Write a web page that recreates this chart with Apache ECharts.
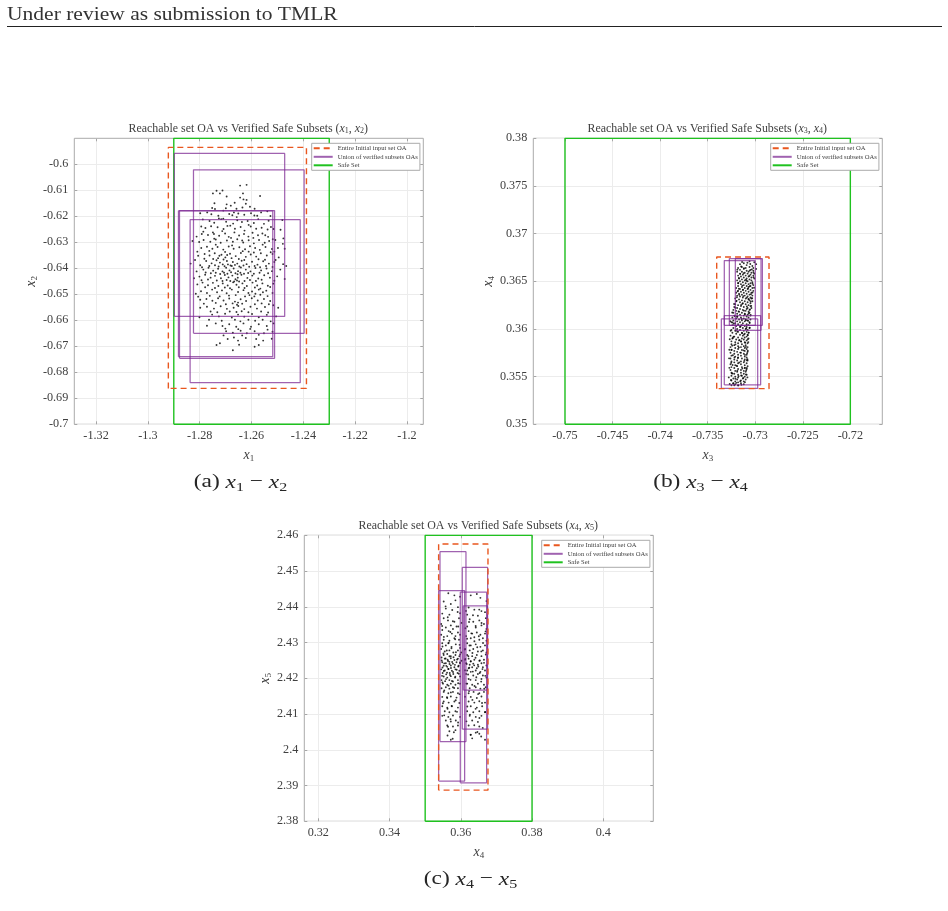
<!DOCTYPE html>
<html>
<head>
<meta charset="utf-8">
<title>Reachable set OA</title>
<script src="https://cdn.jsdelivr.net/npm/echarts@6/dist/echarts.min.js"></script>
<style>
	html, body { margin: 0; padding: 0; background: #fff; }
	#app { width: 948px; height: 911px; }
</style>
</head>
<body>
<div id="app"></div>
<script>
// tick labels
var ticksAx = [-1.32, -1.3, -1.28, -1.26, -1.24, -1.22, -1.2]
var ticksAy = [-0.7, -0.69, -0.68, -0.67, -0.66, -0.65, -0.64, -0.63, -0.62, -0.61, -0.6]
var ticksBx = [-0.75, -0.745, -0.74, -0.735, -0.73, -0.725, -0.72]
var ticksBy = [0.35, 0.355, 0.36, 0.365, 0.37, 0.375, 0.38]
var ticksCx = [0.32, 0.34, 0.36, 0.38, 0.4]
var ticksCy = [2.38, 2.39, 2.4, 2.41, 2.42, 2.43, 2.44, 2.45, 2.46]

// boxes are [xmin, xmax, ymin, ymax]
var safeA = [-1.29, -1.23, -0.7, -0.59]
var safeB = [-0.75, -0.72, 0.35, 0.38]
var safeC = [0.35, 0.38, 2.38, 2.46]
var entireA = [-1.2921, -1.2388, -0.6862, -0.5935]
var entireB = [-0.73405, -0.72855, 0.35374, 0.36755]
var entireC = [0.35378, 0.36763, 2.38871, 2.45756]
var verifiedA = [
	[-1.2898, -1.2472, -0.6585, -0.5958],
	[-1.2824, -1.2397, -0.665, -0.6021],
	[-1.2882, -1.2518, -0.674, -0.6179],
	[-1.2878, -1.2511, -0.6746, -0.6178],
	[-1.2837, -1.2412, -0.684, -0.6213]
]
var verifiedB = [
	[-0.73325, -0.72999, 0.36038, 0.36717],
	[-0.73272, -0.72925, 0.36038, 0.36738],
	[-0.73209, -0.72939, 0.35986, 0.36738],
	[-0.73325, -0.72943, 0.35413, 0.3614],
	[-0.73356, -0.72974, 0.35378, 0.36105]
]
var verifiedC = [
	[0.35416, 0.36145, 2.40229, 2.45541],
	[0.35378, 0.36108, 2.39124, 2.44454],
	[0.36042, 0.36753, 2.40576, 2.45101],
	[0.35986, 0.36725, 2.39077, 2.44407],
	[0.3607, 0.36744, 2.41672, 2.44023]
]

var samplesA = [
	[-1.2644,-0.6082],[-1.2619,-0.6079],[-1.2567,-0.6122],[-1.2696,-0.6124],[-1.2644,-0.6128],[-1.2743,-0.615],[-1.2696,-0.6154],[-1.268,-0.6159],[-1.2619,-0.6137],[-1.2735,-0.6102],[-1.2722,-0.6112],[-1.2712,-0.6101],
	[-1.2631,-0.6135],[-1.2665,-0.6148],[-1.2752,-0.6168],[-1.2741,-0.6172],[-1.2709,-0.6178],[-1.2622,-0.6152],[-1.2635,-0.6166],[-1.2588,-0.6171],[-1.2658,-0.6171],[-1.2699,-0.6169],
	[-1.2798,-0.6188],[-1.2771,-0.6185],[-1.2755,-0.6192],[-1.2728,-0.6198],[-1.2717,-0.6211],[-1.2709,-0.6209],[-1.2686,-0.6191],[-1.2674,-0.6196],[-1.2651,-0.6189],[-1.2628,-0.6194],[-1.2602,-0.6188],[-1.2589,-0.6197],[-1.2563,-0.6185],[-1.2539,-0.6181],[-1.2527,-0.6199],[-1.2481,-0.6214],
	[-1.2788,-0.6212],[-1.2762,-0.6218],[-1.2744,-0.6225],[-1.2698,-0.6221],[-1.2671,-0.6228],[-1.2655,-0.6215],[-1.2637,-0.6222],[-1.2615,-0.6218],[-1.2591,-0.6226],[-1.2574,-0.6211],[-1.2552,-0.6229],[-1.2534,-0.6217],[-1.2778,-0.6245],[-1.2756,-0.6238],[-1.2731,-0.6242],[-1.2708,-0.6249],[-1.2682,-0.6236],[-1.2664,-0.6248],[-1.2642,-0.6241],[-1.2627,-0.6255],[-1.2603,-0.6239],[-1.2582,-0.6248],[-1.2561,-0.6244],[-1.2538,-0.6251],[-1.2515,-0.6249],
	[-1.2812,-0.6278],[-1.2792,-0.6268],[-1.2768,-0.6272],[-1.2749,-0.6262],[-1.2725,-0.6275],[-1.2702,-0.6266],[-1.2688,-0.6279],[-1.2666,-0.6262],[-1.2648,-0.6274],[-1.2629,-0.6268],[-1.2612,-0.6278],[-1.2596,-0.6263],[-1.2575,-0.6273],[-1.2558,-0.6266],[-1.2536,-0.6279],[-1.2518,-0.6288],[-1.2828,-0.6295],
	[-1.2802,-0.6299],[-1.2785,-0.6291],[-1.2759,-0.6298],[-1.2738,-0.6289],[-1.2719,-0.6302],[-1.2695,-0.6293],[-1.2672,-0.6298],[-1.2655,-0.6288],[-1.2632,-0.6301],[-1.2611,-0.6292],[-1.2591,-0.6304],[-1.2571,-0.6291],[-1.2549,-0.6302],[-1.2532,-0.6295],[-1.2508,-0.6291],[-1.2479,-0.6306],
	[-1.2794,-0.6322],[-1.2772,-0.6317],[-1.2751,-0.6325],[-1.2731,-0.6318],[-1.2709,-0.6328],[-1.2688,-0.6316],[-1.2669,-0.6325],[-1.2647,-0.6319],[-1.2625,-0.6327],[-1.2606,-0.6315],[-1.2586,-0.6322],[-1.2568,-0.6329],[-1.2546,-0.6318],[-1.2521,-0.6326],[-1.2498,-0.6322],[-1.2472,-0.6325],
	[-1.2818,-0.6368],[-1.2806,-0.6352],[-1.2781,-0.6345],[-1.2762,-0.6351],[-1.2742,-0.6342],[-1.2724,-0.6352],[-1.2716,-0.6348],[-1.2701,-0.6358],[-1.2683,-0.6344],[-1.2661,-0.6353],[-1.2641,-0.6341],[-1.2622,-0.6356],[-1.2603,-0.6347],[-1.2582,-0.6355],[-1.2564,-0.6342],[-1.2541,-0.6351],[-1.2519,-0.6345],[-1.2495,-0.6358],
	[-1.2835,-0.6382],[-1.2798,-0.6388],[-1.2775,-0.6372],[-1.2754,-0.6381],[-1.2735,-0.6369],[-1.2722,-0.6378],[-1.2711,-0.6385],[-1.2695,-0.6372],[-1.2681,-0.6389],[-1.2672,-0.6376],[-1.2655,-0.6382],[-1.2638,-0.6371],[-1.2619,-0.6384],[-1.2598,-0.6375],[-1.2577,-0.6386],[-1.2555,-0.6373],[-1.2533,-0.6382],[-1.2512,-0.6376],[-1.2478,-0.6384],
	[-1.2812,-0.6412],[-1.2786,-0.6405],[-1.2766,-0.6398],[-1.2748,-0.6409],[-1.2729,-0.6402],[-1.2712,-0.6412],[-1.2698,-0.6398],[-1.2685,-0.6408],[-1.2669,-0.6401],[-1.2652,-0.6411],[-1.2641,-0.6397],[-1.2622,-0.6405],[-1.2604,-0.6412],[-1.2585,-0.6399],[-1.2563,-0.6408],[-1.2542,-0.6401],[-1.2521,-0.6411],[-1.2489,-0.6405],
	[-1.2822,-0.6438],[-1.2801,-0.6432],[-1.2779,-0.6425],[-1.2758,-0.6436],[-1.2741,-0.6429],[-1.2718,-0.6438],[-1.2703,-0.6426],[-1.2689,-0.6435],[-1.2674,-0.6428],[-1.2662,-0.6442],[-1.2653,-0.6436],[-1.2639,-0.6425],[-1.2616,-0.6437],[-1.2597,-0.6428],[-1.2574,-0.6439],[-1.2551,-0.6427],[-1.2529,-0.6436],[-1.2501,-0.6431],[-1.2472,-0.6441],
	[-1.2809,-0.6462],[-1.2789,-0.6455],[-1.2768,-0.6465],[-1.2749,-0.6456],[-1.2728,-0.6468],[-1.2711,-0.6458],[-1.2692,-0.6466],[-1.2671,-0.6454],[-1.2658,-0.6463],[-1.2635,-0.6458],[-1.2618,-0.6468],[-1.2596,-0.6455],[-1.2578,-0.6466],[-1.2558,-0.6458],[-1.2537,-0.6467],[-1.2516,-0.6459],
	[-1.2815,-0.6498],[-1.2795,-0.6488],[-1.2772,-0.6495],[-1.2752,-0.6482],[-1.2733,-0.6492],[-1.2714,-0.6485],[-1.2696,-0.6496],[-1.2676,-0.6482],[-1.2652,-0.6491],[-1.2631,-0.6484],[-1.2612,-0.6495],[-1.2598,-0.6489],[-1.2585,-0.6498],[-1.2572,-0.6482],[-1.2556,-0.6492],[-1.2543,-0.6486],[-1.2519,-0.6495],
	[-1.2798,-0.6521],[-1.2774,-0.6518],[-1.2751,-0.6525],[-1.2729,-0.6515],[-1.2708,-0.6524],[-1.2686,-0.6516],[-1.2664,-0.6528],[-1.2652,-0.6532],[-1.2642,-0.6519],[-1.2621,-0.6526],[-1.2599,-0.6515],[-1.2576,-0.6524],[-1.2552,-0.6518],[-1.2528,-0.6526],[-1.2798,-0.6552],[-1.2772,-0.6548],[-1.2745,-0.6555],[-1.2719,-0.6546],[-1.2695,-0.6556],[-1.2669,-0.6552],[-1.2651,-0.6545],[-1.2628,-0.6557],[-1.2604,-0.6548],[-1.2579,-0.6555],[-1.2548,-0.6549],[-1.2516,-0.6542],[-1.2497,-0.6552],
	[-1.2801,-0.6588],[-1.2752,-0.6578],[-1.2726,-0.6585],[-1.2702,-0.6575],[-1.2676,-0.6589],[-1.2652,-0.6578],[-1.2628,-0.6586],[-1.2598,-0.6576],[-1.2572,-0.6588],[-1.2541,-0.6579],[-1.2505,-0.6585],[-1.2772,-0.6621],[-1.2738,-0.6612],[-1.2712,-0.6622],[-1.2686,-0.6615],[-1.2659,-0.6625],[-1.2631,-0.6612],[-1.2602,-0.6625],[-1.2572,-0.6615],[-1.2541,-0.6622],[-1.2515,-0.6612],
	[-1.2698,-0.6642],[-1.2672,-0.6648],[-1.2642,-0.664],[-1.2618,-0.665],[-1.2588,-0.6642],[-1.2552,-0.665],[-1.2519,-0.6644],[-1.2692,-0.6672],[-1.2668,-0.6666],[-1.2652,-0.6678],[-1.2622,-0.6668],[-1.2582,-0.6672],[-1.2555,-0.6678],[-1.2522,-0.6671],[-1.2735,-0.6695],[-1.2722,-0.6688],[-1.2648,-0.6694],[-1.2672,-0.6715],[-1.2588,-0.6702],[-1.2572,-0.6695]
]
var samplesA2 = [
	[-1.2726,-0.6208],[-1.2693,-0.6237],[-1.2657,-0.6203],[-1.2611,-0.6233],[-1.2786,-0.6259],[-1.2744,-0.6286],[-1.2713,-0.6257],[-1.2679,-0.6283],[-1.2636,-0.6293],[-1.2593,-0.6283],[-1.2547,-0.6273],[-1.2809,-0.6336],[-1.2763,-0.6333],[-1.2738,-0.6309],[-1.2702,-0.6337],[-1.2675,-0.6312],[-1.2634,-0.6334],[-1.2591,-0.6339],[-1.2557,-0.6309],[-1.2526,-0.6338],[-1.2782,-0.6363],[-1.2748,-0.6364],[-1.2729,-0.6361],[-1.2708,-0.6366],[-1.2694,-0.6349],[-1.2677,-0.6361],[-1.2649,-0.6364],[-1.2628,-0.6368],[-1.2611,-0.6336],[-1.2573,-0.6365],[-1.2548,-0.6367],[-1.2507,-0.6368],
	[-1.2791,-0.6396],[-1.2763,-0.6391],[-1.2741,-0.6388],[-1.2727,-0.6393],[-1.2704,-0.6392],[-1.2691,-0.6385],[-1.2676,-0.6391],[-1.2664,-0.6387],[-1.2647,-0.6393],[-1.2631,-0.6389],[-1.2609,-0.6394],[-1.2588,-0.6391],[-1.2567,-0.6396],[-1.2544,-0.6391],[-1.2519,-0.6395],[-1.2777,-0.6416],[-1.2757,-0.6419],[-1.2738,-0.6417],[-1.2721,-0.6422],[-1.2706,-0.6417],[-1.2693,-0.6421],[-1.2679,-0.6415],[-1.2662,-0.6419],[-1.2654,-0.6423],[-1.2643,-0.6417],[-1.2629,-0.6421],[-1.2613,-0.6418],[-1.2591,-0.6421],[-1.2569,-0.6417],[-1.2536,-0.6419],
	[-1.2793,-0.6446],[-1.2768,-0.6443],[-1.2734,-0.6447],[-1.2712,-0.6449],[-1.2696,-0.6445],[-1.2682,-0.6449],[-1.2667,-0.6451],[-1.2656,-0.6447],[-1.2648,-0.6451],[-1.2627,-0.6449],[-1.2606,-0.6445],[-1.2583,-0.6449],[-1.2561,-0.6444],[-1.2512,-0.6448],[-1.2779,-0.6473],[-1.2741,-0.6476],[-1.2703,-0.6474],[-1.2683,-0.6477],[-1.2649,-0.6473],[-1.2627,-0.6476],[-1.2587,-0.6474],[-1.2566,-0.6478],[-1.2528,-0.6472],[-1.2806,-0.6509],[-1.2761,-0.6506],[-1.2723,-0.6508],[-1.2687,-0.6505],[-1.2661,-0.6503],[-1.2625,-0.6508],[-1.2608,-0.6503],[-1.2589,-0.6508],[-1.2566,-0.6502],[-1.2538,-0.6507],
	[-1.2784,-0.6536],[-1.2738,-0.6533],[-1.2699,-0.6538],[-1.2673,-0.6535],[-1.2656,-0.654],[-1.2636,-0.6536],[-1.2587,-0.6538],[-1.2561,-0.6535],[-1.2533,-0.6538],[-1.2758,-0.6566],[-1.2732,-0.6569],[-1.2684,-0.6566],[-1.2658,-0.6568],[-1.2638,-0.6565],[-1.2612,-0.6569],[-1.2563,-0.6566],[-1.2536,-0.657],[-1.2764,-0.6598],[-1.2715,-0.6602],[-1.2664,-0.6598],[-1.2643,-0.6604],[-1.2612,-0.6598],[-1.2586,-0.6602],[-1.2557,-0.6598],[-1.2526,-0.6604],[-1.2701,-0.6632],[-1.2651,-0.6634],[-1.2605,-0.6633],[-1.2538,-0.6636],[-1.2708,-0.6658],[-1.2636,-0.6658],[-1.2572,-0.6656],[-1.2745,-0.6268],[-1.2794,-0.6239],[-1.2668,-0.6185],[-1.2578,-0.6198],[-1.2525,-0.6241],[-1.2488,-0.6252],[-1.2477,-0.6285],[-1.2512,-0.6336],[-1.2466,-0.6391],[-1.2749,-0.6112],[-1.2606,-0.6163],[-1.2633,-0.6112]
]
var samplesB = [
	[-0.7306,0.3671],[-0.7312,0.3669],[-0.7301,0.367],[-0.7316,0.3668],[-0.7309,0.3667],[-0.7303,0.3666],[-0.7299,0.3668],[-0.7314,0.3665],[-0.7306,0.3665],[-0.731,0.3664],[-0.7318,0.3664],[-0.7302,0.3664],[-0.7312,0.3663],[-0.7305,0.3662],[-0.7299,0.3663],[-0.7316,0.3662],[-0.7309,0.3661],[-0.7302,0.3661],[-0.7314,0.366],[-0.7307,0.366],[-0.7319,0.366],[-0.7311,0.3659],[-0.7304,0.3659],[-0.7301,0.3658],[-0.7316,0.3658],[-0.7308,0.3658],[-0.7313,0.3657],[-0.7305,0.3657],[-0.7318,0.3656],[-0.731,0.3656],[-0.7302,0.3656],[-0.7315,0.3655],[-0.7307,0.3655],
	[-0.7312,0.3654],[-0.7304,0.3654],[-0.7317,0.3653],[-0.7309,0.3653],[-0.7301,0.3653],[-0.7314,0.3652],[-0.7306,0.3652],[-0.7319,0.3651],[-0.7311,0.3651],[-0.7304,0.3651],[-0.7316,0.365],[-0.7308,0.365],[-0.7313,0.3649],[-0.7303,0.3649],[-0.7318,0.3648],[-0.731,0.3648],[-0.7305,0.3648],[-0.7315,0.3647],[-0.7307,0.3647],[-0.7312,0.3646],[-0.7302,0.3646],[-0.7318,0.3645],[-0.7309,0.3645],[-0.7305,0.3645],[-0.7314,0.3644],[-0.7307,0.3644],[-0.732,0.3643],[-0.7311,0.3643],[-0.7303,0.3643],[-0.7316,0.3642],[-0.7308,0.3642],[-0.7313,0.3641],[-0.7305,0.3641],
	[-0.7318,0.364],[-0.731,0.364],[-0.7302,0.364],[-0.7315,0.3639],[-0.7307,0.3639],[-0.732,0.3638],[-0.7312,0.3638],[-0.7304,0.3638],[-0.7317,0.3637],[-0.7309,0.3637],[-0.7314,0.3636],[-0.7306,0.3636],[-0.7319,0.3635],[-0.7311,0.3635],[-0.7303,0.3635],[-0.7316,0.3634],[-0.7308,0.3634],[-0.7313,0.3633],[-0.7305,0.3633],[-0.7321,0.3632],[-0.731,0.3632],[-0.7304,0.3632],[-0.7317,0.3631],[-0.7307,0.3631],[-0.7314,0.363],[-0.7306,0.363],[-0.732,0.3629],[-0.7311,0.3629],[-0.7303,0.3629],[-0.7316,0.3628],[-0.7308,0.3628],
	[-0.7313,0.3627],[-0.7305,0.3627],[-0.7321,0.3626],[-0.731,0.3626],[-0.7318,0.3625],[-0.7307,0.3625],[-0.7315,0.3624],[-0.7305,0.3624],[-0.7322,0.3623],[-0.7312,0.3623],[-0.7308,0.3622],[-0.7319,0.3622],[-0.7304,0.3622],[-0.7316,0.3621],[-0.7309,0.3621],[-0.7323,0.362],[-0.7313,0.362],[-0.7306,0.362],[-0.732,0.3619],[-0.731,0.3619],[-0.7317,0.3618],[-0.7307,0.3618],[-0.7323,0.3617],[-0.7314,0.3617],[-0.7306,0.3617],[-0.7319,0.3616],[-0.7311,0.3616],[-0.7316,0.3615],[-0.7308,0.3615],[-0.7322,0.3614],[-0.7312,0.3614],[-0.7305,0.3614],
	[-0.7319,0.3613],[-0.7309,0.3613],[-0.7324,0.3612],[-0.7315,0.3612],[-0.7307,0.3612],[-0.732,0.3611],[-0.7312,0.3611],[-0.7317,0.361],[-0.731,0.361],[-0.7305,0.361],[-0.7323,0.3609],[-0.7314,0.3609],[-0.7308,0.3609],[-0.7319,0.3608],[-0.7311,0.3608],[-0.7325,0.3607],[-0.7316,0.3607],[-0.7306,0.3607],[-0.7321,0.3606],[-0.7313,0.3606],[-0.7309,0.3605],[-0.7318,0.3605],[-0.7324,0.3604],[-0.7314,0.3604],[-0.7307,0.3604],[-0.732,0.3603],[-0.7311,0.3603],[-0.7316,0.3602],[-0.7309,0.3602],[-0.7323,0.3601],[-0.7313,0.3601],[-0.7306,0.3601],
	[-0.7319,0.36],[-0.731,0.36],[-0.7325,0.3599],[-0.7316,0.3599],[-0.7308,0.3599],[-0.7321,0.3598],[-0.7312,0.3598],[-0.7318,0.3597],[-0.7309,0.3597],[-0.7324,0.3596],[-0.7314,0.3596],[-0.7307,0.3596],[-0.732,0.3595],[-0.7311,0.3595],[-0.7316,0.3594],[-0.7308,0.3594],[-0.7326,0.3593],[-0.7313,0.3593],[-0.7322,0.3592],[-0.7309,0.3592],[-0.7318,0.3591],[-0.7311,0.3591],[-0.7324,0.359],[-0.7314,0.359],[-0.7307,0.359],[-0.732,0.3589],[-0.7312,0.3589],[-0.7317,0.3588],[-0.7309,0.3588],[-0.7325,0.3587],[-0.7315,0.3587],
	[-0.7321,0.3586],[-0.7311,0.3586],[-0.7318,0.3585],[-0.7308,0.3585],[-0.7325,0.3584],[-0.7314,0.3584],[-0.7322,0.3583],[-0.731,0.3583],[-0.7318,0.3582],[-0.7312,0.3582],[-0.7326,0.3581],[-0.7315,0.3581],[-0.7308,0.3581],[-0.7321,0.358],[-0.7311,0.358],[-0.7318,0.3579],[-0.7309,0.3579],[-0.7325,0.3578],[-0.7314,0.3578],[-0.7322,0.3577],[-0.7311,0.3577],[-0.7319,0.3576],[-0.7308,0.3576],[-0.7326,0.3575],[-0.7315,0.3575],[-0.7322,0.3574],[-0.7312,0.3574],[-0.7318,0.3573],[-0.7309,0.3573],[-0.7325,0.3572],[-0.7315,0.3572],
	[-0.7321,0.3571],[-0.7311,0.3571],[-0.7318,0.357],[-0.7309,0.357],[-0.7326,0.3569],[-0.7314,0.3569],[-0.7322,0.3568],[-0.7311,0.3568],[-0.7319,0.3567],[-0.7308,0.3567],[-0.7325,0.3566],[-0.7315,0.3566],[-0.7322,0.3565],[-0.7312,0.3565],[-0.7318,0.3564],[-0.7309,0.3564],[-0.7326,0.3563],[-0.7315,0.3563],[-0.7321,0.3562],[-0.7311,0.3562],[-0.7319,0.3561],[-0.7308,0.3561],[-0.7325,0.356],[-0.7314,0.356],[-0.7322,0.3559],[-0.7311,0.3559],[-0.7318,0.3558],[-0.7309,0.3558],[-0.7326,0.3557],[-0.7315,0.3557],[-0.7321,0.3556],[-0.7312,0.3556],
	[-0.7319,0.3555],[-0.731,0.3555],[-0.7325,0.3554],[-0.7315,0.3554],[-0.7322,0.3553],[-0.7312,0.3553],[-0.7318,0.3552],[-0.7309,0.3552],[-0.7325,0.3551],[-0.7314,0.3551],[-0.7321,0.355],[-0.7311,0.355],[-0.7318,0.3549],[-0.7323,0.3548],[-0.7313,0.3548],[-0.7319,0.3547],[-0.731,0.3547],[-0.7325,0.3546],[-0.7315,0.3546],[-0.7321,0.3545],[-0.7312,0.3545],[-0.7318,0.3544],[-0.7323,0.3543],[-0.7315,0.3543],[-0.7321,0.3542],[-0.7312,0.3542],[-0.7325,0.3541],[-0.7318,0.3541],[-0.7322,0.3541]
]
var samplesB2 = [
	[-0.73082,0.36695],[-0.73148,0.36655],[-0.73036,0.36625],[-0.73122,0.36585],[-0.73062,0.36555],[-0.73172,0.36535],[-0.73092,0.36505],[-0.73028,0.36475],[-0.73135,0.36455],[-0.73075,0.36425],[-0.73185,0.36395],[-0.73045,0.36365],[-0.73125,0.36345],[-0.73068,0.36315],[-0.73195,0.36295],[-0.73135,0.36265],[-0.73088,0.36235],[-0.73055,0.36205],[-0.73175,0.36185],[-0.73108,0.36155],[-0.73215,0.36135],[-0.73142,0.36105],[-0.73075,0.36085],[-0.73225,0.36055],[-0.73155,0.36025],[-0.73095,0.36005],[-0.73205,0.35985],[-0.73138,0.35955],[-0.73078,0.35935],[-0.73235,0.35905],[-0.73165,0.35885],[-0.73105,0.35855],[-0.73242,0.35825],[-0.73172,0.35805],[-0.73122,0.35775],[-0.73085,0.35745],[-0.73235,0.35725],[-0.73182,0.35695],[-0.73115,0.35665],[-0.73252,0.35645],[-0.73195,0.35615],[-0.73135,0.35585],[-0.73095,0.35565],[-0.73245,0.35535],[-0.73175,0.35505],[-0.73125,0.35485],[-0.73255,0.35465],[-0.73198,0.35435],[-0.73145,0.35415],
	[-0.73118,0.36638],[-0.73058,0.36612],[-0.73158,0.36578],[-0.73018,0.36542],[-0.73098,0.36518],[-0.73178,0.36482],[-0.73058,0.36448],[-0.73128,0.36412],[-0.73028,0.36382],[-0.73168,0.36358],[-0.73088,0.36328],[-0.73048,0.36288],[-0.73148,0.36252],[-0.73208,0.36222],[-0.73118,0.36192],[-0.73068,0.36162],[-0.73188,0.36128],[-0.73098,0.36092],[-0.73238,0.36068],[-0.73148,0.36038],[-0.73058,0.36012],[-0.73188,0.35972],[-0.73118,0.35942],[-0.73228,0.35918],[-0.73078,0.35892],[-0.73148,0.35868],[-0.73208,0.35838],[-0.73098,0.35812],[-0.73248,0.35782],[-0.73158,0.35752],[-0.73108,0.35728],[-0.73218,0.35702],[-0.73088,0.35672],[-0.73168,0.35648],[-0.73238,0.35622],[-0.73108,0.35592],[-0.73188,0.35562],[-0.73238,0.35532],[-0.73148,0.35512],[-0.73098,0.35522],[-0.73208,0.35478],[-0.73158,0.35452],[-0.73232,0.35428],[-0.73178,0.35408],
	[-0.73052,0.36682],[-0.73138,0.36702],[-0.73018,0.36592],[-0.73188,0.36622],[-0.73012,0.36432],[-0.73172,0.36422],[-0.73032,0.36322],[-0.73192,0.36332],[-0.73042,0.36242],[-0.73222,0.36262],[-0.73048,0.36148],[-0.73242,0.36172],[-0.73058,0.36062],[-0.73262,0.36082],[-0.73068,0.35962],[-0.73258,0.35982],[-0.73072,0.35862],[-0.73268,0.35892],[-0.73078,0.35772],[-0.73272,0.35782],[-0.73082,0.35682],[-0.73275,0.35692],[-0.73088,0.35592],[-0.73272,0.35592],[-0.73082,0.35492],[-0.73278,0.35492],[-0.73108,0.35442],[-0.73268,0.35422]
]
var samplesC = [
	[0.3565,2.4438],[0.3582,2.4432],[0.3598,2.4428],[0.3552,2.4415],[0.3572,2.4408],[0.3585,2.4418],[0.3645,2.4436],[0.3655,2.4425],[0.3628,2.4432],[0.3672,2.4416],[0.3558,2.4395],[0.3576,2.4391],[0.3592,2.4399],[0.3548,2.4381],[0.3568,2.4378],[0.3598,2.4382],[0.3622,2.4398],[0.3638,2.4392],[0.3658,2.4388],[0.3618,2.4378],[0.3648,2.4375],[0.3668,2.4385],
	[0.3552,2.4368],[0.3564,2.4362],[0.3582,2.4358],[0.3595,2.4368],[0.3545,2.4352],[0.3572,2.4348],[0.3588,2.4345],[0.3602,2.4355],[0.3625,2.4365],[0.3635,2.4358],[0.3652,2.4362],[0.3665,2.4352],[0.3618,2.4345],[0.3642,2.4342],[0.3658,2.4348],[0.3672,2.4338],
	[0.3548,2.4335],[0.3558,2.4342],[0.3566,2.4332],[0.3578,2.4338],[0.3592,2.4328],[0.3545,2.4322],[0.3562,2.4318],[0.3575,2.4325],[0.3585,2.4318],[0.3598,2.4322],[0.3552,2.4308],[0.3568,2.4305],[0.3582,2.4312],[0.3595,2.4308],[0.3622,2.4332],[0.3632,2.4325],[0.3645,2.4328],[0.3655,2.4322],[0.3668,2.4325],[0.3615,2.4318],[0.3628,2.4312],[0.3638,2.4315],[0.3652,2.4308],[0.3662,2.4312],[0.3672,2.4305],
	[0.3548,2.4298],[0.3558,2.4292],[0.3565,2.4298],[0.3574,2.4288],[0.3586,2.4295],[0.3598,2.4285],[0.3545,2.4282],[0.3555,2.4275],[0.3568,2.4278],[0.3579,2.4272],[0.3592,2.4278],[0.3601,2.4272],[0.3552,2.4265],[0.3562,2.4268],[0.3572,2.4262],[0.3585,2.4265],[0.3596,2.4262],[0.3618,2.4298],[0.3628,2.4292],[0.3642,2.4295],[0.3655,2.4288],[0.3668,2.4292],[0.3612,2.4282],[0.3625,2.4278],[0.3635,2.4282],[0.3648,2.4275],[0.3662,2.4278],[0.3672,2.4272],[0.3618,2.4265],[0.3632,2.4262],[0.3645,2.4265],[0.3658,2.4262],
	[0.3546,2.4258],[0.3555,2.4255],[0.3563,2.4252],[0.3572,2.4256],[0.3582,2.4251],[0.3592,2.4255],[0.3602,2.4249],[0.3548,2.4245],[0.3558,2.4242],[0.3568,2.4246],[0.3578,2.4241],[0.3588,2.4245],[0.3598,2.4242],[0.3552,2.4235],[0.3562,2.4232],[0.3572,2.4236],[0.3582,2.4231],[0.3594,2.4235],[0.3612,2.4252],[0.3622,2.4255],[0.3628,2.4248],[0.3638,2.4252],[0.3652,2.4249],[0.3665,2.4252],[0.3615,2.4242],[0.3625,2.4238],[0.3635,2.4241],[0.3648,2.4238],[0.3658,2.4242],[0.3672,2.4236],[0.3622,2.4228],[0.3632,2.4231],[0.3645,2.4228],[0.3662,2.4231],
	[0.3545,2.4225],[0.3555,2.4222],[0.3565,2.4226],[0.3575,2.4221],[0.3585,2.4225],[0.3596,2.4221],[0.3549,2.4215],[0.3559,2.4211],[0.3569,2.4215],[0.3579,2.4212],[0.3591,2.4215],[0.3552,2.4205],[0.3562,2.4202],[0.3572,2.4206],[0.3584,2.4202],[0.3598,2.4205],[0.3618,2.4222],[0.3628,2.4218],[0.3642,2.4222],[0.3655,2.4218],[0.3668,2.4222],[0.3615,2.4212],[0.3635,2.4208],[0.3648,2.4212],[0.3662,2.4208],[0.3672,2.4202],[0.3622,2.4198],[0.3642,2.4195],[0.3658,2.4198],
	[0.3546,2.4195],[0.3556,2.4192],[0.3568,2.4195],[0.3578,2.4191],[0.3592,2.4195],[0.355,2.4185],[0.3562,2.4182],[0.3572,2.4185],[0.3585,2.4182],[0.3598,2.4185],[0.3546,2.4172],[0.3558,2.4175],[0.3568,2.4171],[0.3578,2.4175],[0.3592,2.4172],[0.3618,2.4185],[0.3632,2.4182],[0.3648,2.4185],[0.3665,2.4182],[0.3625,2.4172],[0.3642,2.4175],[0.3655,2.4171],[0.367,2.4175],
	[0.3552,2.4162],[0.3565,2.4158],[0.3578,2.4162],[0.3592,2.4158],[0.3548,2.4148],[0.3562,2.4145],[0.3572,2.4149],[0.3588,2.4146],[0.3622,2.4158],[0.3636,2.4162],[0.3652,2.4158],[0.3665,2.4162],[0.3628,2.4148],[0.3645,2.4145],[0.3658,2.4149],[0.3552,2.4135],[0.3566,2.4132],[0.3582,2.4135],[0.3596,2.4131],[0.3622,2.4135],[0.3638,2.4132],[0.3652,2.4136],[0.3668,2.4132],
	[0.3548,2.4122],[0.3562,2.4118],[0.3575,2.4122],[0.3592,2.4118],[0.3628,2.4122],[0.3645,2.4118],[0.366,2.4122],[0.3555,2.4108],[0.3568,2.4105],[0.3585,2.4108],[0.3618,2.4108],[0.3635,2.4105],[0.3652,2.4108],[0.3668,2.4105],[0.3548,2.4095],[0.3565,2.4092],[0.3578,2.4096],[0.3598,2.4092],[0.3625,2.4095],[0.3642,2.4092],[0.3658,2.4095],
	[0.3558,2.4082],[0.3572,2.4079],[0.3586,2.4082],[0.3632,2.4082],[0.3648,2.4078],[0.3562,2.4068],[0.3578,2.4065],[0.3592,2.4068],[0.3622,2.4068],[0.3652,2.4065],[0.3568,2.4052],[0.3585,2.4055],[0.3642,2.4048],[0.3628,2.4042],[0.3652,2.4045],[0.3572,2.4028],[0.3668,2.4028],[0.3632,2.4032]
]
var samplesC2 = [
	[0.35573,2.44012],[0.35912,2.43856],[0.35634,2.43706],[0.35778,2.43594],[0.35476,2.43462],[0.35928,2.43448],[0.35706,2.43296],[0.35524,2.43158],[0.35842,2.43094],[0.35662,2.42992],[0.35966,2.42936],[0.35486,2.42888],[0.35738,2.42842],[0.35606,2.42776],[0.35864,2.42728],[0.35512,2.42692],[0.35982,2.42664],[0.35682,2.42616],[0.35796,2.42588],[0.35574,2.42552],[0.35896,2.42524],[0.35464,2.42498],[0.35642,2.42482],[0.35758,2.42456],[0.35978,2.42442],[0.35536,2.42418],[0.35684,2.42398],[0.35836,2.42376],[0.35592,2.42348],[0.35928,2.42332],[0.35486,2.42304],[0.35724,2.42288],[0.35654,2.42262],[0.35884,2.42238],[0.35522,2.42206],[0.35782,2.42178],[0.35614,2.42158],[0.35946,2.42126],[0.35698,2.42094],[0.35474,2.42068],[0.35846,2.42042],[0.35586,2.41978],[0.35752,2.41926],[0.35484,2.41884],[0.35926,2.41862],[0.35656,2.41794],[0.35814,2.41728],[0.35536,2.41658],[0.35722,2.41606],[0.35966,2.41556],[0.35612,2.41472],[0.35858,2.41388],[0.35498,2.41304],[0.35744,2.41228],[0.35628,2.41148],[0.35894,2.41062],[0.35534,2.40964],[0.35712,2.40858],[0.35924,2.40762],[0.35642,2.40644],[0.35806,2.40492],[0.35628,2.40398],[0.35772,2.40308],
	[0.36146,2.43886],[0.36518,2.43922],[0.36342,2.43762],[0.36704,2.43682],[0.36232,2.43576],[0.36582,2.43548],[0.36418,2.43464],[0.36128,2.43402],[0.36696,2.43312],[0.36296,2.43258],[0.36506,2.43176],[0.36176,2.43108],[0.36382,2.43036],[0.36624,2.42986],[0.36244,2.42918],[0.36462,2.42868],[0.36114,2.42806],[0.36576,2.42752],[0.36326,2.42708],[0.36702,2.42666],[0.36212,2.42618],[0.36414,2.42574],[0.36126,2.42538],[0.36536,2.42498],[0.36278,2.42468],[0.36652,2.42432],[0.36166,2.42398],[0.36376,2.42362],[0.36492,2.42332],[0.36238,2.42296],[0.36608,2.42258],[0.36118,2.42224],[0.36336,2.42188],[0.36532,2.42148],[0.36204,2.42106],[0.36688,2.42068],[0.36436,2.42028],[0.36272,2.41956],[0.36572,2.41908],[0.36158,2.41852],[0.36386,2.41786],[0.36658,2.41708],[0.36232,2.41642],[0.36486,2.41558],[0.36118,2.41482],[0.36326,2.41396],[0.36596,2.41308],[0.36182,2.41212],[0.36416,2.41146],[0.36684,2.41056],[0.36256,2.40984],[0.36522,2.40888],[0.36158,2.40796],[0.36378,2.40688],[0.36616,2.40612],[0.36466,2.40498],[0.36276,2.40418],[0.36572,2.40372]
]

var fontName = 'Liberation Serif'
var purple = 'rgba(124,38,146,0.72)'
var red = '#e9571f'
var green = '#1fc21f'
var names = ['Entire Initial input set OA', 'Union of verified subsets OAs', 'Safe Set']

function boxPath(b) {
	return [[b[0], b[2]], [b[0], b[3]], [b[1], b[3]], [b[1], b[2]], [b[0], b[2]]]
}

function lineOf(name, box, idx, style) {
	return {
		name: name,
		type: 'line',
		xAxisIndex: idx * 2,
		yAxisIndex: idx * 2,
		data: boxPath(box),
		symbol: 'none',
		silent: true,
		animation: false,
		lineStyle: style,
		itemStyle: { color: style.color }
	}
}

function axisOf(grid, pos, range, ticks, label) {
	return {
		type: 'value',
		gridIndex: grid,
		position: pos,
		min: range[0],
		max: range[1],
		axisLine: { show: false },
		axisTick: { show: true, inside: true, length: 3, customValues: ticks, lineStyle: { color: '#a6a6a6', width: 1 } },
		axisLabel: {
			show: label,
			customValues: ticks,
			margin: 6,
			fontFamily: fontName,
			fontSize: 12.2,
			color: '#404040',
			formatter: function(v) { return String(v) }
		},
		splitLine: { show: label, lineStyle: { color: '#ececec', width: 1 } }
	}
}

var mathRich = {
	i: { fontFamily: fontName, fontStyle: 'italic', fontSize: 14, color: '#404040' },
	s: { fontFamily: fontName, fontSize: 9, color: '#404040', padding: [6, 0, 0, 0] }
}

var panels = [
	{ left: 74.3, top: 138.3, safe: safeA, entire: entireA, verified: verifiedA, points: samplesA.concat(samplesA2), xr: [-1.3284, -1.1937], yr: [-0.7, -0.59], xt: ticksAx, yt: ticksAy, xn: '1', yn: '2', gap: 34 },
	{ left: 533.3, top: 138.3, safe: safeB, entire: entireB, verified: verifiedB, points: samplesB.concat(samplesB2), xr: [-0.75333, -0.71664], yr: [0.35, 0.38], xt: ticksBx, yt: ticksBy, xn: '3', yn: '4', gap: 36 },
	{ left: 304.3, top: 535.3, safe: safeC, entire: entireC, verified: verifiedC, points: samplesC.concat(samplesC2), xr: [0.31607, 0.41404], yr: [2.38, 2.46], xt: ticksCx, yt: ticksCy, xn: '4', yn: '5', gap: 30 }
]

var grids = [], xAxes = [], yAxes = [], series = [], legends = [], titles = []

panels.forEach(function(p, i) {
	grids.push({ left: p.left, top: p.top, width: 349, height: 286, show: true, borderColor: '#ababab', borderWidth: 1, backgroundColor: '#fff' })
	// two axes per plot, the second only mirrors the ticks on the far side
	let bx = axisOf(i, 'bottom', p.xr, p.xt, true)
	bx.name = '{i|x}{s|' + p.xn + '}'
	bx.nameLocation = 'middle'
	bx.nameGap = 24
	bx.nameTextStyle = { rich: mathRich }
	let ly = axisOf(i, 'left', p.yr, p.yt, true)
	ly.name = '{i|x}{s|' + p.yn + '}'
	ly.nameLocation = 'middle'
	ly.nameGap = p.gap
	ly.nameRotate = 90
	ly.nameTextStyle = { rich: mathRich }
	xAxes.push(bx, axisOf(i, 'top', p.xr, p.xt, false))
	yAxes.push(ly, axisOf(i, 'right', p.yr, p.yt, false))

	series.push(lineOf(names[2], p.safe, i, { color: green, width: 1.4 }))
	series.push({
		type: 'scatter',
		xAxisIndex: i * 2,
		yAxisIndex: i * 2,
		data: p.points,
		symbolSize: 1.9,
		silent: true,
		animation: false,
		itemStyle: { color: '#000' }
	})
	p.verified.forEach(function(b) {
		series.push(lineOf(names[1], b, i, { color: purple, width: 1.25 }))
	})
	series.push(lineOf(names[0], p.entire, i, { color: red, width: 1.4, type: [6, 4] }))

	legends.push({
		data: names,
		orient: 'vertical',
		left: p.left + 237.4,
		top: p.top + 5,
		padding: [1.5, 2, 1.5, 1],
		itemGap: 1.5,
		itemWidth: 19,
		itemHeight: 6.5,
		itemStyle: { opacity: 0 },
		selectedMode: false,
		backgroundColor: '#fff',
		borderColor: '#ababab',
		borderWidth: 1,
		textStyle: { fontFamily: fontName, fontSize: 6.6, color: '#404040' }
	})

	titles.push({
		text: 'Reachable set OA vs Verified Safe Subsets ({i|x}{s|' + p.xn + '}, {i|x}{s|' + p.yn + '})',
		left: p.left + 174,
		top: p.top - 15.5,
		textAlign: 'center',
		padding: 0,
		textStyle: {
			fontFamily: fontName,
			fontSize: 11.9,
			fontWeight: 'normal',
			color: '#404040',
			rich: {
				i: { fontFamily: fontName, fontStyle: 'italic', fontSize: 11.9, color: '#404040' },
				s: { fontFamily: fontName, fontSize: 8, color: '#404040', padding: [4, 0, 0, 0] }
			}
		}
	})
})

// the page around the plots, stretched sideways to the width of the typeset text
var captionRich = {
	i: { fontFamily: fontName, fontStyle: 'italic', fontSize: 19, fill: '#262626' },
	s: { fontFamily: fontName, fontSize: 13, fill: '#262626', padding: [10, 0, 0, 0] }
}
var captions = [
	{ x: 240.5, y: 471, text: '(a) {i|x}{s|1} \u2212 {i|x}{s|2}' },
	{ x: 700.5, y: 471, text: '(b) {i|x}{s|3} \u2212 {i|x}{s|4}' },
	{ x: 470.5, y: 868, text: '(c) {i|x}{s|4} \u2212 {i|x}{s|5}' }
]
var pageGraphics = captions.map(function(c) {
	return {
		type: 'text',
		silent: true,
		x: c.x,
		y: c.y,
		scaleX: 1.23,
		style: { text: c.text, rich: captionRich, fontFamily: fontName, fontSize: 19, fill: '#262626', align: 'center' }
	}
})
pageGraphics.push({
	type: 'text',
	silent: true,
	x: 7,
	y: 6,
	scaleX: 1.133,
	style: { text: 'Under review as submission to TMLR', fontFamily: fontName, fontSize: 19, fill: '#333', align: 'left' }
})
pageGraphics.push({
	type: 'line',
	silent: true,
	shape: { x1: 7, y1: 26.5, x2: 942, y2: 26.5 },
	style: { stroke: '#222', lineWidth: 1 }
})

var chart = echarts.init(document.getElementById('app'))
chart.setOption({
	animation: false,
	backgroundColor: '#fff',
	title: titles,
	legend: legends,
	grid: grids,
	xAxis: xAxes,
	yAxis: yAxes,
	series: series,
	graphic: pageGraphics
})
</script>
</body>
</html>
